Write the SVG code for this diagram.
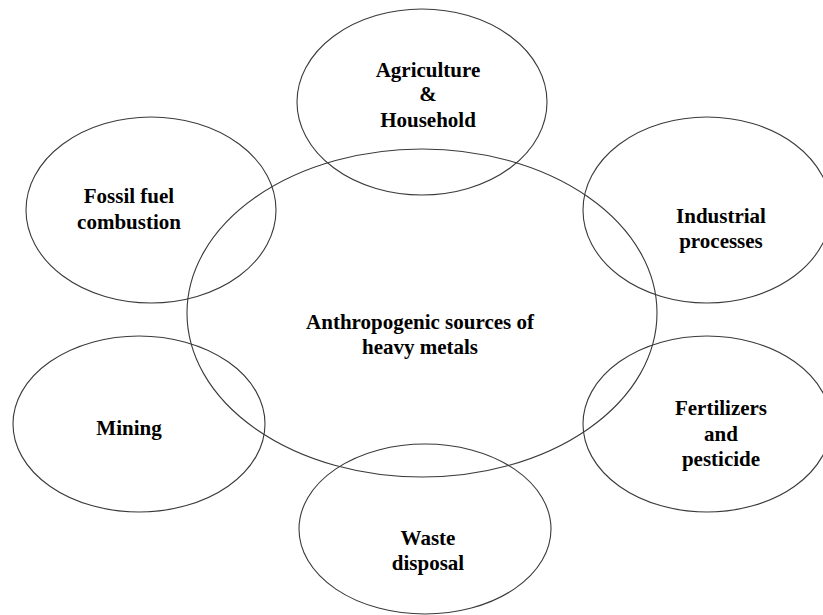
<svg xmlns="http://www.w3.org/2000/svg" width="823" height="615" viewBox="0 0 823 615">
<style>
.sh{fill:none;stroke:#3a3a3a;stroke-width:1.1}
.t{font-family:"Liberation Serif","Times New Roman",serif;font-weight:bold;font-size:21px;fill:#000;text-anchor:middle}
</style>
<rect width="823" height="615" fill="#fff"/>
<g id="center">
<ellipse class="sh" cx="422" cy="313" rx="235" ry="164"/>
<text class="t" x="420" y="329">Anthropogenic sources of</text>
<text class="t" x="420" y="354">heavy metals</text>
</g>
<g id="agriculture">
<ellipse class="sh" cx="422" cy="102" rx="125" ry="93"/>
<text class="t" x="428" y="77">Agriculture</text>
<text class="t" x="428" y="101">&amp;</text>
<text class="t" x="428" y="127">Household</text>
</g>
<g id="fossil">
<ellipse class="sh" cx="151" cy="210" rx="125" ry="93"/>
<text class="t" x="129" y="203">Fossil fuel</text>
<text class="t" x="129" y="229">combustion</text>
</g>
<g id="industrial">
<ellipse class="sh" cx="707" cy="210" rx="124" ry="93"/>
<text class="t" x="721" y="223">Industrial</text>
<text class="t" x="721" y="248">processes</text>
</g>
<g id="mining">
<ellipse class="sh" cx="139" cy="424" rx="126" ry="88"/>
<text class="t" x="129" y="435">Mining</text>
</g>
<g id="fertilizers">
<ellipse class="sh" cx="707" cy="424" rx="124" ry="88"/>
<text class="t" x="721" y="415">Fertilizers</text>
<text class="t" x="721" y="441">and</text>
<text class="t" x="721" y="466">pesticide</text>
</g>
<g id="waste">
<ellipse class="sh" cx="425" cy="529" rx="126" ry="85"/>
<text class="t" x="428" y="545">Waste</text>
<text class="t" x="428" y="570">disposal</text>
</g>
<g id="connectors"></g>
</svg>
